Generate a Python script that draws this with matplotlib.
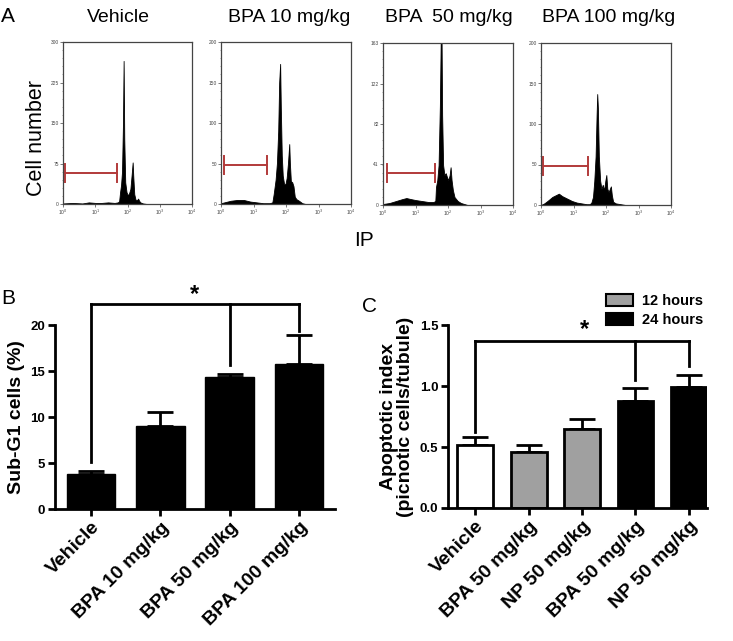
import numpy as np
import matplotlib
matplotlib.use("Agg")
import matplotlib.pyplot as plt
from matplotlib.patches import Patch
from matplotlib.ticker import MultipleLocator

plt.rcParams['font.family'] = ['Liberation Sans', 'DejaVu Sans']

# ---------------- Data ----------------
hist_titles = ["Vehicle", "BPA 10 mg/kg", "BPA  50 mg/kg", "BPA 100 mg/kg"]
hist_ymax = [300, 200, 163, 200]
hist_yticks = [[0, 75, 150, 225, 300], [0, 50, 100, 150, 200],
               [0, 41, 82, 122, 163], [0, 50, 100, 150, 200]]

# log10(IP) positions and cell counts
veh_pos = [0.0, 0.3, 0.6, 0.8, 1.0, 1.2, 1.4, 1.6, 1.70, 1.74, 1.77, 1.80, 1.83, 1.86, 1.88,
           1.90, 1.93, 1.97, 2.01, 2.05, 2.09, 2.13, 2.16, 2.18, 2.21, 2.25, 2.29, 2.33, 2.36,
           2.40, 2.48, 2.6, 4.0]
veh_cnt = [1, 2, 1, 3, 2, 2, 3, 2, 3, 5, 22, 35, 60, 150, 265, 120, 40, 22, 16, 20, 28,
           55, 77, 50, 18, 8, 7, 10, 6, 3, 1, 0, 0]

b10_pos = [0.0, 0.1, 0.3, 0.5, 0.7, 0.9, 1.1, 1.3, 1.5, 1.58, 1.62, 1.68, 1.72, 1.76, 1.79,
           1.82, 1.84, 1.87, 1.90, 1.94, 1.98, 2.02, 2.06, 2.10, 2.12, 2.15, 2.19, 2.23, 2.27,
           2.32, 2.40, 2.5, 2.6, 4.0]
b10_cnt = [1, 2, 4, 5, 5, 3, 2, 1, 1, 2, 12, 30, 50, 90, 150, 173, 120, 60, 35, 25, 24, 32,
           50, 74, 50, 28, 27, 22, 9, 6, 4, 1, 0, 0]

b50_pos = [0.0, 0.2, 0.4, 0.6, 0.72, 0.85, 1.0, 1.2, 1.4, 1.55, 1.61, 1.63, 1.67, 1.71, 1.75,
           1.78, 1.80, 1.82, 1.85, 1.89, 1.93, 1.97, 2.01, 2.05, 2.08, 2.11, 2.15, 2.2, 2.3,
           2.4, 2.5, 2.6, 4.0]
b50_cnt = [1, 2, 4, 6, 7, 6, 5, 4, 3, 3, 4, 18, 25, 40, 100, 175, 175, 90, 40, 30, 32, 28,
           25, 30, 38, 25, 15, 8, 4, 2, 1, 0, 0]

b100_pos = [0.0, 0.1, 0.2, 0.35, 0.5, 0.55, 0.65, 0.8, 0.95, 1.1, 1.25, 1.4, 1.5, 1.55, 1.6,
            1.64, 1.68, 1.71, 1.73, 1.75, 1.78, 1.82, 1.86, 1.90, 1.94, 1.98, 2.01, 2.04, 2.08,
            2.12, 2.15, 2.18, 2.22, 2.3, 2.45, 2.6, 4.0]
b100_cnt = [0, 2, 5, 10, 13, 14, 11, 8, 5, 3, 2, 1, 1, 3, 10, 30, 60, 110, 137, 120, 60, 30,
            20, 25, 18, 30, 37, 20, 16, 20, 23, 12, 4, 2, 1, 0, 0]

hist_pos = [veh_pos, b10_pos, b50_pos, b100_pos]
hist_cnt = [veh_cnt, b10_cnt, b50_cnt, b100_cnt]

# Sub-G1 gate markers (log10 start, log10 end, height)
gate_lo = [0.05, 0.08, 0.11, 0.07]
gate_hi = [1.68, 1.43, 1.60, 1.44]
gate_y = [58, 48, 32, 48]

# Panel B
b_cats = ["Vehicle", "BPA 10 mg/kg", "BPA 50 mg/kg", "BPA 100 mg/kg"]
b_vals = [3.8, 9.0, 14.3, 15.8]
b_err = [0.3, 1.5, 0.4, 3.1]
b_sig_idx = [0, 2, 3]
b_sig_leg = [5.1, 15.7, 19.3]
b_sig_top = 22.3

# Panel C
c_cats = ["Vehicle", "BPA 50 mg/kg", "NP 50 mg/kg", "BPA 50 mg/kg", "NP 50 mg/kg"]
c_vals = [0.52, 0.46, 0.65, 0.88, 0.99]
c_err = [0.06, 0.06, 0.08, 0.10, 0.10]
c_group = ["vehicle", "12 hours", "12 hours", "24 hours", "24 hours"]
c_sig_idx = [0, 3, 4]
c_sig_leg = [0.62, 1.05, 1.16]
c_sig_top = 1.37

# ---------------- Figure ----------------
W, H = 733, 641
fig = plt.figure(figsize=(W / 100, H / 100), dpi=100)


def ax_px(x0, y0, x1, y1):
    return fig.add_axes([x0 / W, 1 - y1 / H, (x1 - x0) / W, (y1 - y0) / H])


hist_boxes = [(63, 42, 192, 204), (221, 42, 351, 204), (383, 43, 513, 205), (541, 43, 671, 205)]
title_x = [118, 289, 449, 609]
gate_color = "#b23a3a"

for i in range(4):
    ax = ax_px(*hist_boxes[i])
    x = 10 ** np.array(hist_pos[i])
    ax.fill_between(x, 0, hist_cnt[i], color="black", linewidth=0.6, edgecolor="black")
    ax.set_xscale("log")
    ax.set_xlim(1, 1e4)
    ax.set_ylim(0, hist_ymax[i])
    ax.set_xticks([1, 10, 100, 1000, 10000])
    ax.set_xticklabels([r"10$^{%d}$" % k for k in range(5)], fontsize=3.5, color="#333333")
    ax.set_yticks(hist_yticks[i])
    ax.set_yticklabels([str(v) for v in hist_yticks[i]], fontsize=3.5, color="#333333")
    ax.yaxis.set_minor_locator(MultipleLocator(hist_ymax[i] / 20))
    ax.tick_params(which="major", length=2, width=0.5, pad=1, colors="#444444")
    ax.tick_params(which="minor", length=1, width=0.4, colors="#666666")
    for s in ax.spines.values():
        s.set_linewidth(0.9)
        s.set_color("#444444")
    # gate
    gl, gh, gy = 10 ** gate_lo[i], 10 ** gate_hi[i], gate_y[i]
    cap = hist_ymax[i] * 0.055
    ax.plot([gl, gh], [gy, gy], color=gate_color, lw=1.4)
    ax.plot([gl, gl], [gy - cap, gy + cap], color=gate_color, lw=1.4)
    ax.plot([gh, gh], [gy - cap, gy + cap], color=gate_color, lw=1.4)
    fig.text(title_x[i] / W, 1 - 17 / H, hist_titles[i], ha="center", va="center", fontsize=14)

fig.text(1 / W, 1 - 17 / H, "A", ha="left", va="center", fontsize=15)
fig.text(37 / W, 1 - 138 / H, "Cell number", rotation=90, ha="center", va="center", fontsize=15.5)
fig.text(364 / W, 1 - 241 / H, "IP", ha="center", va="center", fontsize=15)

# ---------------- Panel B ----------------
axb = ax_px(55, 325, 335, 509)
xb = np.arange(len(b_vals))
axb.bar(xb, b_vals, width=0.7, color="black", edgecolor="black", zorder=2)
axb.errorbar(xb, b_vals, yerr=[np.zeros(len(b_err)), b_err], fmt="none", ecolor="black",
             elinewidth=2, capsize=9.4, capthick=2, zorder=1)
axb.set_xlim(-0.52, 3.52)
axb.set_ylim(0, 20)
axb.set_yticks([0, 5, 10, 15, 20])
axb.set_xticks(xb)
axb.set_xticklabels(b_cats, rotation=45, ha="right", rotation_mode="anchor",
                    fontsize=14, fontweight="bold")
for lab in axb.get_yticklabels():
    lab.set_fontweight("bold")
    lab.set_fontsize(9.5)
axb.set_ylabel("Sub-G1 cells (%)", fontsize=14, fontweight="bold", labelpad=4)
for s in ["top", "right"]:
    axb.spines[s].set_visible(False)
for s in ["left", "bottom"]:
    axb.spines[s].set_linewidth(2)
axb.tick_params(width=2, length=5, pad=2)
axb.plot([xb[b_sig_idx[0]], xb[b_sig_idx[-1]]], [b_sig_top, b_sig_top], color="black", lw=2,
         clip_on=False, solid_capstyle="projecting")
for idx, leg in zip(b_sig_idx, b_sig_leg):
    axb.plot([xb[idx], xb[idx]], [leg, b_sig_top], color="black", lw=2, clip_on=False)
fig.text(195 / W, 1 - 295 / H, "*", ha="center", va="center", fontsize=17, fontweight="bold")
fig.text(1 / W, 1 - 298 / H, "B", ha="left", va="center", fontsize=15)

# ---------------- Panel C ----------------
axc = ax_px(448, 325, 707, 508)
xc = np.arange(len(c_vals))
col_map = {"vehicle": "white", "12 hours": "#a0a0a0", "24 hours": "black"}
colors = [col_map[g] for g in c_group]
axc.bar(xc, c_vals, width=0.67, color=colors, edgecolor="black", linewidth=2, zorder=2)
axc.errorbar(xc, c_vals, yerr=[np.zeros(len(c_err)), c_err], fmt="none", ecolor="black",
             elinewidth=2, capsize=9.4, capthick=2, zorder=1)
axc.set_xlim(-0.51, 4.34)
axc.set_ylim(0, 1.5)
axc.set_yticks([0.0, 0.5, 1.0, 1.5])
axc.set_yticklabels(["0.0", "0.5", "1.0", "1.5"])
axc.set_xticks(xc)
axc.set_xticklabels(c_cats, rotation=45, ha="right", rotation_mode="anchor",
                    fontsize=14, fontweight="bold")
for lab in axc.get_yticklabels():
    lab.set_fontweight("bold")
    lab.set_fontsize(9.5)
axc.set_ylabel("Apoptotic index\n(picnotic cells/tubule)", fontsize=14, fontweight="bold",
               labelpad=4, linespacing=1.05)
for s in ["top", "right"]:
    axc.spines[s].set_visible(False)
for s in ["left", "bottom"]:
    axc.spines[s].set_linewidth(2)
axc.tick_params(width=2, length=5, pad=2)
axc.plot([xc[c_sig_idx[0]], xc[c_sig_idx[-1]]], [c_sig_top, c_sig_top], color="black", lw=2,
         clip_on=False, solid_capstyle="projecting")
for idx, leg in zip(c_sig_idx, c_sig_leg):
    axc.plot([xc[idx], xc[idx]], [leg, c_sig_top], color="black", lw=2, clip_on=False)
fig.text(585 / W, 1 - 330 / H, "*", ha="center", va="center", fontsize=17, fontweight="bold")
fig.text(362 / W, 1 - 307 / H, "C", ha="left", va="center", fontsize=15)

handles = [Patch(facecolor=col_map["12 hours"], edgecolor="black", linewidth=1.5, label="12 hours"),
           Patch(facecolor=col_map["24 hours"], edgecolor="black", linewidth=1.5, label="24 hours")]
leg = fig.legend(handles=handles, loc="upper right", bbox_to_anchor=(712 / W, 1 - 285 / H),
                 frameon=False, prop={"weight": "bold", "size": 10.5},
                 handlelength=1.9, handleheight=0.9, handletextpad=0.6, labelspacing=0.35,
                 borderpad=0.1)

fig.savefig("out.png", dpi=100)
